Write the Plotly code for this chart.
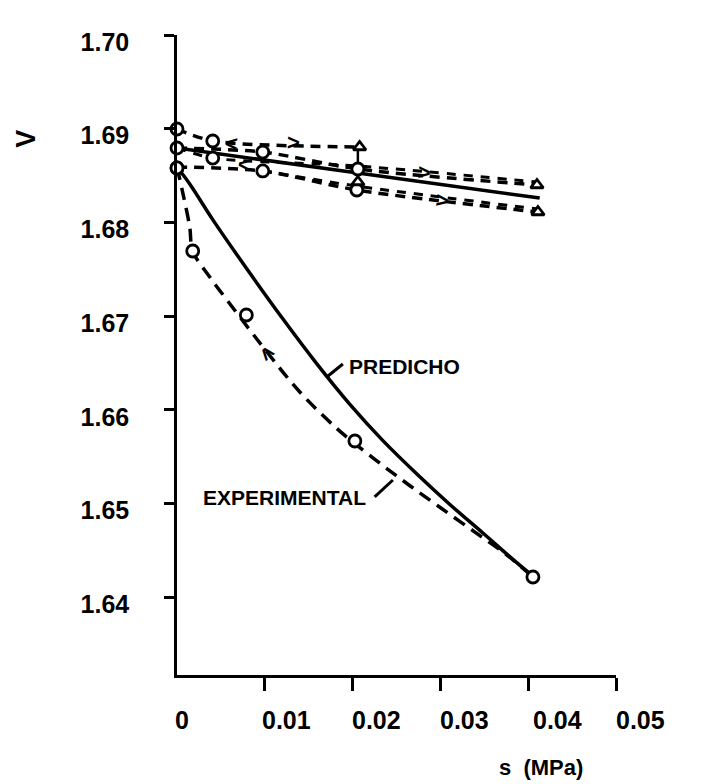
import plotly.graph_objects as go

# ---------------- data ----------------
# lower group: predicted (solid) and experimental (dashed) curves
pred_s = [0.0, 0.00145, 0.00407, 0.00829, 0.01205, 0.01593, 0.01969, 0.02345, 0.02732, 0.03108, 0.03484, 0.03849, 0.04054]
pred_v = [1.68591, 1.68410, 1.68030, 1.67460, 1.66971, 1.66490, 1.66058, 1.65671, 1.65315, 1.64990, 1.64685, 1.64385, 1.64225]

exp_s = [0.0, 0.00066, 0.00145, 0.00179, 0.00373, 0.00578, 0.00829, 0.01034, 0.01399, 0.01821, 0.02026, 0.02345, 0.02653, 0.02994, 0.03393, 0.03758, 0.04054]
exp_v = [1.68591, 1.68314, 1.67951, 1.67695, 1.67417, 1.67161, 1.66852, 1.66606, 1.66190, 1.65800, 1.65640, 1.65405, 1.65190, 1.64960, 1.64695, 1.64450, 1.64216]

exp_pts_s = [0.0, 0.00179, 0.00790, 0.02026, 0.04054]
exp_pts_v = [1.68581, 1.67695, 1.67012, 1.65667, 1.64216]

# upper group: experimental paths (dashed)
d1_s = [0.0, 0.00407, 0.02080]
d1_v = [1.68997, 1.68869, 1.68805]
d2_s = [0.0, 0.00977, 0.02060, 0.04100]
d2_v = [1.68794, 1.68751, 1.68570, 1.68399]
d2b_s = [0.0, 0.00407, 0.02060, 0.04100]
d2b_v = [1.68794, 1.68687, 1.68602, 1.68431]
d3_s = [0.0, 0.00977, 0.02048, 0.04111]
d3_v = [1.68591, 1.68549, 1.68346, 1.68111]
d3b_s = [0.00977, 0.02048, 0.04111]
d3b_v = [1.68549, 1.68388, 1.68143]
vert_s = [0.0206, 0.0206]
vert_v = [1.68805, 1.68346]

# upper group: predicted (solid)
s1_s = [0.0, 0.02060, 0.04131]
s1_v = [1.68794, 1.68528, 1.68260]

# upper markers
circ_s = [0.0, 0.0, 0.0, 0.00407, 0.00407, 0.00977, 0.00977, 0.02060, 0.02048]
circ_v = [1.68997, 1.68794, 1.68581, 1.68869, 1.68687, 1.68751, 1.68549, 1.68570, 1.68346]
tri_s = [0.0208, 0.0206, 0.0410, 0.04111]
tri_v = [1.68805, 1.68431, 1.68399, 1.68111]

# direction marks along the paths: (s, V, glyph, angle)
arrow_s = [0.01322, 0.02823, 0.03028, 0.00624, 0.00772, 0.01034]
arrow_v = [1.68858, 1.68538, 1.68239, 1.68847, 1.68613, 1.66606]
arrow_txt = [">", ">", ">", "<", "<", "<"]
arrow_ang = [2, 5, 7, 4, 6, 51]

# axes
y_ticks = [1.64, 1.65, 1.66, 1.67, 1.68, 1.69, 1.70]
y_ticktext = ["1.64", "1.65", "1.66", "1.67", "1.68", "1.69", "1.70"]
x_ticks = [0.01, 0.02, 0.03, 0.04, 0.05]
x_labels = ["0", "0.01", "0.02", "0.03", "0.04", "0.05"]
x_label_px = [182, 287, 377, 465, 558, 640]   # label centres (hand-lettered, offset from ticks)

FONT = "Liberation Sans, Arial, sans-serif"
PLOT_L, PLOT_W, PLOT_B, PLOT_H = 177.25, 438.75, 675.0, 640.0

def px_to_paper_x(px):
    return (px - PLOT_L) / PLOT_W

def px_to_paper_y(py):
    return (PLOT_B - py) / PLOT_H

fig = go.Figure()

def line(xs, ys, dash="solid", width=3.5, smoothing=0.8):
    fig.add_trace(go.Scatter(x=xs, y=ys, mode="lines", cliponaxis=False,
                             line=dict(color="black", width=width, dash=dash, shape="spline", smoothing=smoothing),
                             showlegend=False, hoverinfo="skip"))

line(pred_s, pred_v, "solid", 3.5, 1.0)
line(exp_s, exp_v, "13px,8px", 3.5, 1.0)
line(d1_s, d1_v, "10px,7px", 3.5)
line(d2_s, d2_v, "10px,7px", 3.5)
line(d2b_s, d2b_v, "9px,8px", 3)
line(d3_s, d3_v, "10px,7px", 3.5)
line(d3b_s, d3b_v, "9px,8px", 3)
line(vert_s, vert_v, "solid", 2.5)
line(s1_s, s1_v, "solid", 3.5)

# leader lines for the labels
line([0.01706, 0.01889], [1.66350, 1.66489], "solid", 3)
line([0.02251, 0.02459], [1.65070, 1.65251], "solid", 3)

fig.add_trace(go.Scatter(x=exp_pts_s + circ_s, y=exp_pts_v + circ_v, mode="markers", cliponaxis=False,
                         marker=dict(symbol="circle", size=12, color="white",
                                     line=dict(color="black", width=2.8)),
                         showlegend=False, hoverinfo="skip"))
fig.add_trace(go.Scatter(x=tri_s, y=tri_v, mode="markers", cliponaxis=False,
                         marker=dict(symbol="triangle-up", size=11, color="white",
                                     line=dict(color="black", width=2.8)),
                         showlegend=False, hoverinfo="skip"))

annotations = []
for s, v, t, a in zip(arrow_s, arrow_v, arrow_txt, arrow_ang):
    annotations.append(dict(x=s, y=v, xref="x", yref="y", text=t, showarrow=False,
                            xanchor="center", yanchor="middle",
                            textangle=a, font=dict(family=FONT, size=22, color="black", weight="bold")))

for px, t in zip(x_label_px, x_labels):
    annotations.append(dict(x=px_to_paper_x(px), y=px_to_paper_y(720), xref="paper", yref="paper",
                            text=t, showarrow=False, xanchor="center", yanchor="middle",
                            font=dict(family=FONT, size=25, color="black", weight="bold")))

annotations.append(dict(x=px_to_paper_x(541), y=px_to_paper_y(767), xref="paper", yref="paper",
                        text="s  (MPa)", showarrow=False, xanchor="center", yanchor="middle",
                        font=dict(family=FONT, size=22, color="black", weight="bold")))
annotations.append(dict(x=0.01934, y=1.66457, xref="x", yref="y", text="PREDICHO", showarrow=False,
                        xanchor="left", yanchor="middle",
                        font=dict(family=FONT, size=21, color="black", weight="bold")))
annotations.append(dict(x=0.01228, y=1.65069, xref="x", yref="y", text="EXPERIMENTAL", showarrow=False,
                        xanchor="center", yanchor="middle",
                        font=dict(family=FONT, size=21, color="black", weight="bold")))
annotations.append(dict(x=px_to_paper_x(26), y=px_to_paper_y(139), xref="paper", yref="paper",
                        text="V", showarrow=False, textangle=-90, xanchor="center", yanchor="middle",
                        font=dict(family=FONT, size=27, color="black", weight="bold")))

fig.update_layout(
    width=709, height=784,
    margin=dict(l=177, r=93, t=35, b=109, pad=0),
    paper_bgcolor="white", plot_bgcolor="white",
    annotations=annotations,
    showlegend=False,
    xaxis=dict(range=[0, 0.05], showgrid=False, zeroline=False, showline=True,
               linecolor="black", linewidth=2.5, tickvals=x_ticks, ticks="outside",
               ticklen=13, tickwidth=2.5, tickcolor="black", showticklabels=False),
    yaxis=dict(range=[1.6317, 1.70], showgrid=False, zeroline=False, showline=True,
               linecolor="black", linewidth=2.5, tickvals=y_ticks, ticktext=y_ticktext,
               ticks="outside", ticklen=10, tickwidth=2.5, tickcolor="black",
               tickfont=dict(family=FONT, size=25, color="black", weight="bold"),
               ticklabelstandoff=30, ticklabelshift=7),
)

fig.write_html("out.html")
